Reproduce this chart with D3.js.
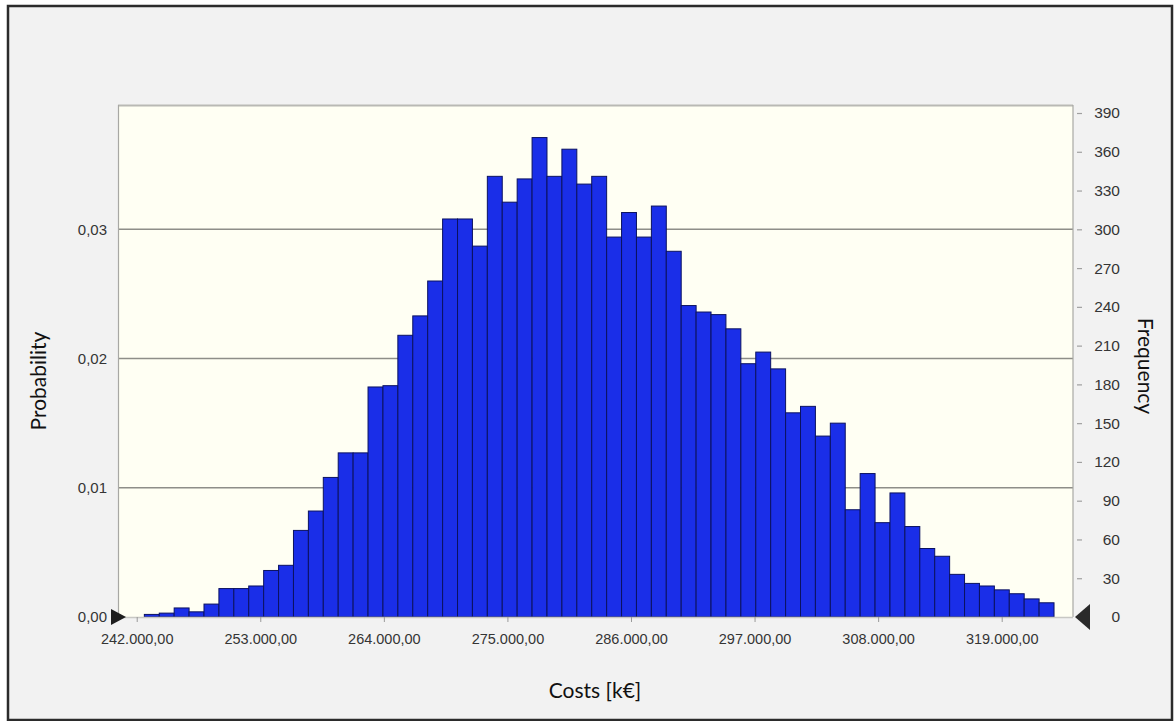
<!DOCTYPE html>
<html>
<head>
<meta charset="utf-8">
<script src="https://cdn.jsdelivr.net/npm/d3@7"></script>
<style>
  html, body { margin: 0; padding: 0; background: #ffffff; }
  svg { display: block; }
</style>
</head>
<body>
<div id="chart"></div>
<script>
// 1: DATA
const binStart = 242680;     // lower edge of first bin, k€
const binWidth = 1327.5;     // width of one bin, k€
const frequencies = [
  2, 3, 7, 4, 10,
  22, 22, 24, 36, 40, 67, 82, 108, 127, 127, 178, 179, 218, 233, 260,
  308, 308, 287, 341, 321, 339, 371, 341, 362, 335, 341, 294, 313, 294, 318, 283, 241, 236, 234,
  223, 196, 205, 192, 158, 163, 140, 150, 83, 111, 73, 96, 70, 53, 47, 33, 26, 24, 21, 18, 14, 11
];
const samples = 10000;
const xTicks = [242000, 253000, 264000, 275000, 286000, 297000, 308000, 319000];
const probTicks = [0, 0.01, 0.02, 0.03];
const freqTicks = [0, 30, 60, 90, 120, 150, 180, 210, 240, 270, 300, 330, 360, 390];

const bins = frequencies.map((f, i) => ({
  x0: binStart + i * binWidth,
  x1: binStart + (i + 1) * binWidth,
  freq: f
}));

// 2: LAYOUT
const W = 1174, H = 721;
const margin = { top: 105, right: 101, bottom: 104, left: 118 };
const width = W - margin.left - margin.right;
const height = H - margin.top - margin.bottom;

const deLocale = d3.formatLocale({ decimal: ",", thousands: ".", grouping: [3], currency: ["", "€"] });
const fmtX = deLocale.format(",.2f");
const fmtP = deLocale.format(".2f");

const svg = d3.select("#chart").append("svg")
  .attr("width", W).attr("height", H);

// window background + frame
svg.append("rect").attr("x", 0).attr("y", 0).attr("width", W).attr("height", H).attr("fill", "#ffffff");
svg.append("rect").attr("x", 8).attr("y", 6).attr("width", W - 10).attr("height", H - 7)
  .attr("fill", "#f2f2f2").attr("stroke", "#2b2b2b").attr("stroke-width", 2.5);

const g = svg.append("g").attr("transform", `translate(${margin.left},${margin.top})`);

// 3: SCALES
const xScale = d3.scaleLinear().domain([240335, 325347]).range([0, width]);
const yFreq = d3.scaleLinear().domain([0, 396.2]).range([height, 0]);
const yProb = d3.scaleLinear().domain([0, 396.2 / samples]).range([height, 0]);

// plot background
g.append("rect").attr("width", width).attr("height", height)
  .attr("fill", "#fffff3");
g.append("line").attr("x1", 0).attr("x2", width).attr("y1", 0.5).attr("y2", 0.5)
  .attr("stroke", "#b9b9b4").attr("stroke-width", 2);

// grid lines (probability levels)
g.selectAll(".grid").data(probTicks.filter(d => d > 0)).enter()
  .append("line").attr("class", "grid")
  .attr("x1", 0).attr("x2", width)
  .attr("y1", d => yProb(d)).attr("y2", d => yProb(d))
  .attr("stroke", "#8e8e88").attr("stroke-width", 1.4);

// 4: BARS
g.selectAll(".bar").data(bins).enter()
  .append("rect").attr("class", "bar")
  .attr("x", d => xScale(d.x0))
  .attr("width", d => xScale(d.x1) - xScale(d.x0))
  .attr("y", d => yFreq(d.freq))
  .attr("height", d => height - yFreq(d.freq))
  .attr("fill", "#1a2ee8")
  .attr("stroke", "#0b1260")
  .attr("stroke-width", 1);

// plot borders
g.append("line").attr("x1", 0.5).attr("x2", 0.5).attr("y1", 0).attr("y2", height)
  .attr("stroke", "#a8a8a4").attr("stroke-width", 1.2);
g.append("line").attr("x1", width).attr("x2", width).attr("y1", 0).attr("y2", height)
  .attr("stroke", "#a8a8a4").attr("stroke-width", 1.2);
g.append("line").attr("x1", 0).attr("x2", width).attr("y1", height + 0.5).attr("y2", height + 0.5)
  .attr("stroke", "#c8c8c4").attr("stroke-width", 1.5);

// 5: AXES
const labelFont = "'Liberation Sans', Arial, sans-serif";

// bottom axis
const xAxis = g.append("g").attr("transform", `translate(0,${height})`)
  .call(d3.axisBottom(xScale).tickValues(xTicks).tickFormat(fmtX).tickSize(5).tickPadding(12));
xAxis.select(".domain").remove();
xAxis.selectAll("line").attr("stroke", "#9a9a9a");
xAxis.selectAll("text").attr("fill", "#353535").style("font-family", labelFont).style("font-size", "14.5px");

// left axis (probability)
const yAxisL = g.append("g")
  .call(d3.axisLeft(yProb).tickValues(probTicks).tickFormat(fmtP).tickSize(0).tickPadding(11));
yAxisL.select(".domain").remove();
yAxisL.selectAll("text").attr("fill", "#353535").style("font-family", labelFont).style("font-size", "15px");

// right axis (frequency)
const yAxisR = g.append("g").attr("transform", `translate(${width},0)`)
  .call(d3.axisRight(yFreq).tickValues(freqTicks).tickSize(0).tickPadding(0));
yAxisR.select(".domain").remove();
yAxisR.selectAll(".tick").append("line")
  .attr("x1", 4).attr("x2", 9).attr("stroke", "#a0a0a0").attr("stroke-width", 1.2);
yAxisR.selectAll("text")
  .attr("x", 47).attr("text-anchor", "end")
  .attr("fill", "#353535").style("font-family", labelFont).style("font-size", "15.5px");
yAxisR.selectAll(".tick").filter(d => d === 0).select("line").remove();

// slider markers on the axes
svg.append("path")
  .attr("d", `M${margin.left - 7},${margin.top + height - 8} L${margin.left + 8},${margin.top + height} L${margin.left - 7},${margin.top + height + 8} Z`)
  .attr("fill", "#1e1e1e");
svg.append("path")
  .attr("d", `M${margin.left + width + 17},${margin.top + height - 13} L${margin.left + width + 2},${margin.top + height} L${margin.left + width + 17},${margin.top + height + 13} Z`)
  .attr("fill", "#2a2a2a");

// 6: LABELS
const titleFont = "Lato, 'Noto Sans', sans-serif";
svg.append("text")
  .attr("transform", `translate(46,${margin.top + height / 2 + 20}) rotate(-90)`)
  .attr("text-anchor", "middle")
  .style("font-family", titleFont).style("font-size", "21px").attr("fill", "#111")
  .text("Probability");
svg.append("text")
  .attr("transform", `translate(1138,${margin.top + height / 2 + 5}) rotate(90)`)
  .attr("text-anchor", "middle")
  .style("font-family", titleFont).style("font-size", "21px").attr("fill", "#111")
  .text("Frequency");
svg.append("text")
  .attr("x", 595).attr("y", 698)
  .attr("text-anchor", "middle")
  .style("font-family", titleFont).style("font-size", "21px").attr("fill", "#111")
  .text("Costs [k€]");
</script>
</body>
</html>
